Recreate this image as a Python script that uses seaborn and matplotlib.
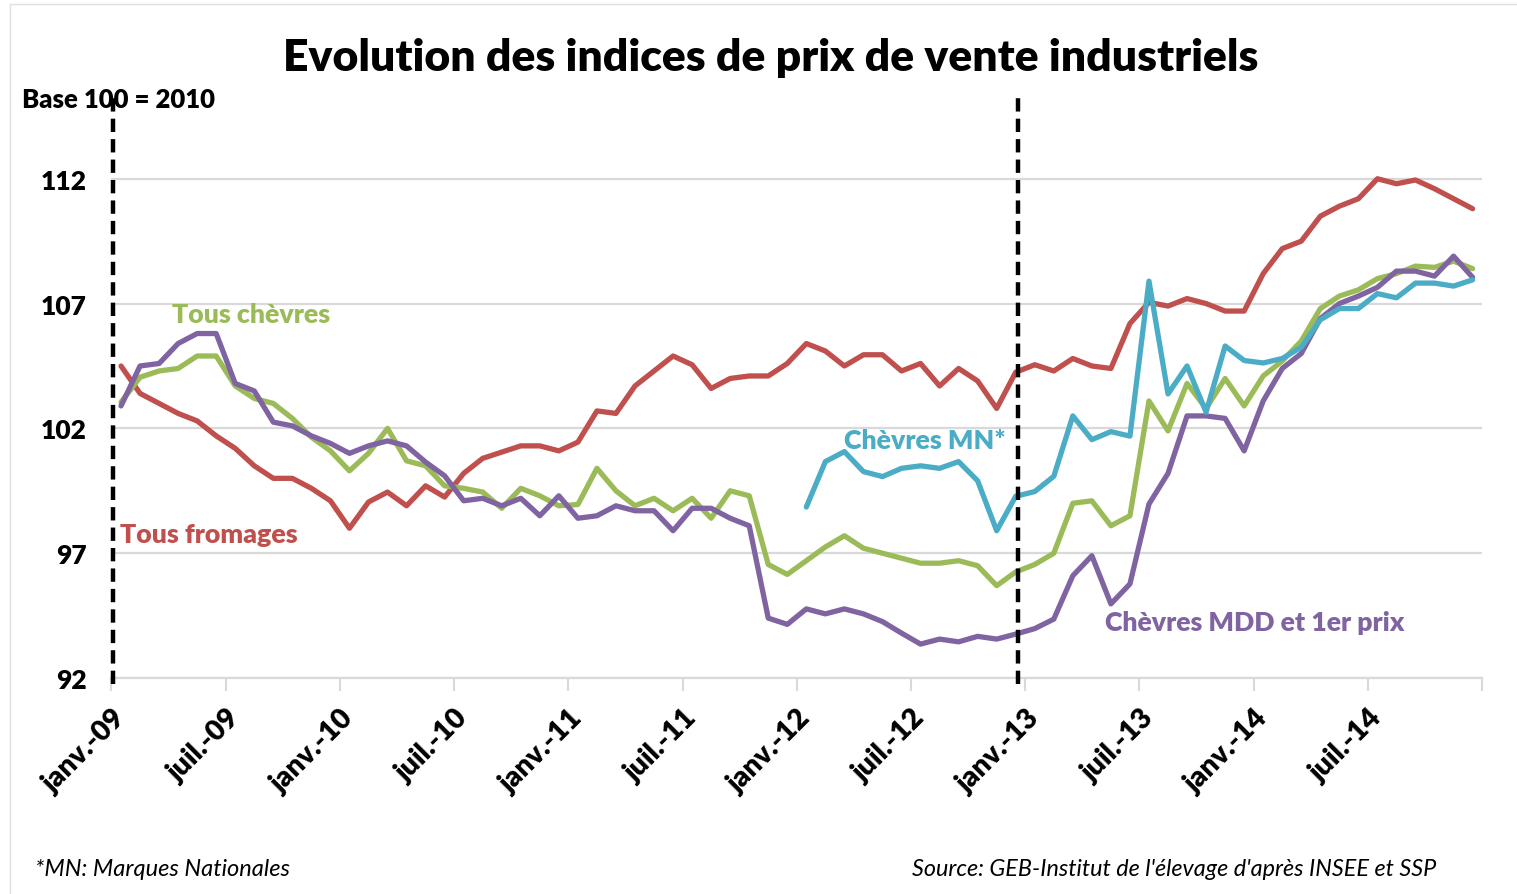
import pandas as pd
import numpy as np
import matplotlib
matplotlib.use("Agg")
import matplotlib.pyplot as plt
import matplotlib.transforms as mtransforms
from matplotlib.lines import Line2D
import seaborn as sns

# data : indices mensuels janv.-09 -> dec.-14 (base 100 = 2010)
tous_fromages = [104.5, 103.4, 103.0, 102.6, 102.3, 101.7, 101.2, 100.5, 100.0, 100.0, 99.6, 99.1,
                 98.0, 99.05, 99.45, 98.9, 99.7, 99.25, 100.2, 100.8, 101.05, 101.3, 101.3, 101.1,
                 101.45, 102.7, 102.6, 103.7, 104.3, 104.9, 104.55, 103.6, 104.0, 104.1, 104.1, 104.6,
                 105.4, 105.1, 104.5, 104.95, 104.95, 104.3, 104.6, 103.7, 104.4, 103.9, 102.8, 104.25,
                 104.55, 104.3, 104.8, 104.5, 104.4, 106.2, 107.05, 106.9, 107.2, 107.0, 106.7, 106.7,
                 108.2, 109.2, 109.5, 110.5, 110.9, 111.2, 112.0, 111.8, 111.95, 111.6, 111.2, 110.8]
tous_chevres = [103.05, 104.05, 104.3, 104.4, 104.9, 104.9, 103.7, 103.2, 103.0, 102.4, 101.65, 101.1,
                100.3, 101.0, 102.0, 100.7, 100.5, 99.7, 99.6, 99.45, 98.8, 99.6, 99.3, 98.9,
                98.95, 100.4, 99.5, 98.9, 99.2, 98.7, 99.2, 98.4, 99.5, 99.3, 96.55, 96.15,
                96.7, 97.25, 97.7, 97.2, 97.0, 96.8, 96.6, 96.6, 96.7, 96.5, 95.7, 96.25,
                96.55, 97.0, 99.0, 99.1, 98.1, 98.5, 103.1, 101.9, 103.8, 102.8, 104.0, 102.9,
                104.1, 104.7, 105.5, 106.8, 107.3, 107.55, 108.0, 108.2, 108.5, 108.45, 108.7, 108.4]
chevres_mdd = [102.9, 104.5, 104.6, 105.4, 105.8, 105.8, 103.8, 103.5, 102.25, 102.1, 101.7, 101.4,
               101.0, 101.3, 101.5, 101.3, 100.65, 100.1, 99.1, 99.2, 98.9, 99.2, 98.5, 99.3,
               98.4, 98.5, 98.9, 98.7, 98.7, 97.9, 98.8, 98.8, 98.4, 98.1, 94.4, 94.15,
               94.77, 94.57, 94.77, 94.57, 94.26, 93.8, 93.36, 93.56, 93.45, 93.67, 93.56, 93.76,
               93.98, 94.36, 96.1, 96.9, 94.97, 95.77, 98.97, 100.2, 102.5, 102.5, 102.4, 101.1,
               103.1, 104.4, 105.0, 106.4, 107.0, 107.3, 107.65, 108.3, 108.3, 108.1, 108.9, 108.05]
# Chèvres MN* : disponible a partir de janv.-12
chevres_mn = [np.nan] * 36 + [
              98.85, 100.67, 101.07, 100.27, 100.07, 100.4, 100.5, 100.4, 100.67, 99.9, 97.9, 99.28,
              99.47, 100.08, 102.5, 101.55, 101.87, 101.69, 107.9, 103.38, 104.5, 102.65, 105.3, 104.72,
              104.62, 104.8, 105.25, 106.35, 106.8, 106.8, 107.4, 107.23, 107.82, 107.82, 107.7, 107.95]

mois = ["janv.", "juil."]
annees = ["09", "10", "11", "12", "13", "14"]
tick_labels = [m + "-" + a for a in annees for m in mois]

series = ["Tous fromages", "Tous chèvres", "Chèvres MDD et 1er prix", "Chèvres MN*"]
couleurs = ["#C0504D", "#9BBB59", "#8064A2", "#4BACC6"]

n = len(tous_fromages)
data = pd.DataFrame({
    "mois": list(range(n)) * 4,
    "indice": tous_fromages + tous_chevres + chevres_mdd + chevres_mn,
    "serie": [s for s in series for _ in range(n)],
})

sns.set_theme(style="white")
plt.rcParams["font.family"] = ["Lato", "DejaVu Sans"]
plt.rcParams["text.color"] = "black"
plt.rcParams["xtick.labelcolor"] = "black"
plt.rcParams["ytick.labelcolor"] = "black"
W = "heavy"

fig = plt.figure(figsize=(15.17, 8.95), dpi=100)
ax = fig.add_axes([0.0735, 0.2413, 0.9035, 0.6527])

sns.lineplot(data=data, x="mois", y="indice", hue="serie", hue_order=series,
             palette=couleurs, linewidth=3.8, legend=False, ax=ax)

ax.set_xlim(-0.5, n - 0.5)
ax.set_ylim(92, 115.4)
ax.set_yticks([92, 97, 102, 107, 112])
ax.set_yticklabels(["92", "97", "102", "107", "112"], fontsize=19, fontweight=W)
ax.grid(axis="y", color="#D9D9D9", linewidth=1.6)
ax.set_axisbelow(True)

ax.set_xticks([-0.5 + 6 * k for k in range(len(tick_labels))] + [n - 0.5])
ax.set_xticklabels(tick_labels + [""], rotation=45, ha="right", rotation_mode="anchor",
                   fontsize=20.5, fontweight=W)
offset = mtransforms.ScaledTranslation(0.30, -0.04, fig.dpi_scale_trans)
for lab in ax.get_xticklabels():
    lab.set_transform(lab.get_transform() + offset)
    lab.set_color("black")
for lab in ax.get_yticklabels():
    lab.set_color("black")
ax.tick_params(axis="x", length=9, width=1.5, color="#D9D9D9", pad=10, direction="out", bottom=True)
ax.tick_params(axis="y", length=0, pad=18)
ax.set_xlabel("")
ax.set_ylabel("")

for s in ["top", "right", "left"]:
    ax.spines[s].set_visible(False)
ax.spines["bottom"].set_color("#D9D9D9")
ax.spines["bottom"].set_linewidth(1.6)

# lignes verticales pointillees
for xv in [-0.42, 47.14]:
    ax.vlines(xv, 91.75, 115.4, colors="black", linestyles=(0, (3, 1.6)), linewidth=3.2,
              clip_on=False, zorder=5)

# etiquettes des series
ax.text(2.68, 106.6, "Tous chèvres", color=couleurs[1], fontsize=19.3, fontweight=W, va="center")
ax.text(-0.05, 97.77, "Tous fromages", color=couleurs[0], fontsize=19.3, fontweight=W, va="center")
ax.text(38.0, 101.54, "Chèvres MN*", color=couleurs[3], fontsize=19.3, fontweight=W, va="center")
ax.text(51.7, 94.24, "Chèvres MDD et 1er prix", color=couleurs[2], fontsize=19.2, fontweight=W,
        va="center")

fig.text(0.508, 0.935, "Evolution des indices de prix de vente industriels", ha="center",
         va="center", fontsize=32, fontweight=W, color="black")
fig.text(0.0145, 0.888, "Base 100 = 2010", ha="left", va="center", fontsize=18.5, fontweight=W,
         color="black")
fig.text(0.023, 0.029, "*MN: Marques Nationales", ha="left", va="center", fontsize=17,
         style="italic", color="black")
fig.text(0.947, 0.029, "Source: GEB-Institut de l'élevage d'après INSEE et SSP", ha="right",
         va="center", fontsize=16.8, style="italic", color="black")

# cadre fin
fig.add_artist(Line2D([10 / 1517, 10 / 1517], [0, 1 - 5 / 895], color="#E0E0E0", linewidth=1))
fig.add_artist(Line2D([10 / 1517, 1], [1 - 5 / 895, 1 - 5 / 895], color="#E0E0E0", linewidth=1))

fig.savefig("out.png", dpi=100)
